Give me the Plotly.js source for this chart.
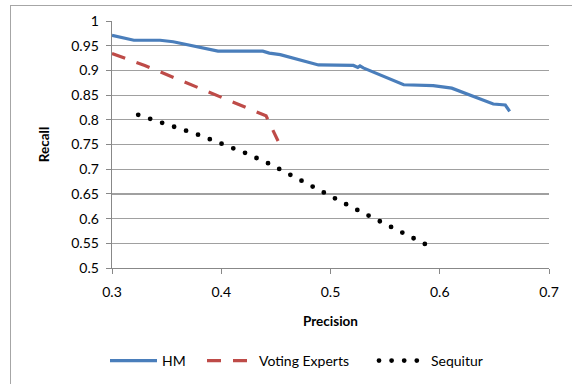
<!DOCTYPE html>
<html>
<head>
<meta charset="utf-8">
<script src="https://cdn.plot.ly/plotly-3.0.1.min.js"></script>
<style>
  html, body { margin: 0; padding: 0; background: #fff; overflow: hidden; }
  #wrap { position: relative; width: 572px; height: 384px; overflow: hidden; }
  #chart { position: absolute; left: 0; top: 0; width: 572px; height: 384px; }
  #frame { position: absolute; left: 10px; top: 5px; width: 700px; height: 500px;
           border: 1.5px solid #a6a6a6; pointer-events: none; box-sizing: border-box; }
  .scatterlayer .trace:nth-child(3) .js-line { stroke-linecap: round; }
  .legend3 .js-line { stroke-linecap: round; }
</style>
</head>
<body>
<div id="wrap">
  <div id="chart"></div>
  <div id="frame"></div>
</div>
<script>
// HM
const hmPrecision = [0.300, 0.320, 0.344, 0.356, 0.397, 0.438, 0.444, 0.454, 0.489, 0.521, 0.525, 0.527, 0.530, 0.567, 0.594, 0.611, 0.649, 0.660, 0.664];
const hmRecall    = [0.971, 0.961, 0.961, 0.958, 0.939, 0.939, 0.935, 0.932, 0.911, 0.910, 0.906, 0.909, 0.905, 0.871, 0.869, 0.864, 0.832, 0.830, 0.817];
// Voting Experts
const vePrecision = [0.300, 0.330, 0.367, 0.400, 0.430, 0.441, 0.452];
const veRecall    = [0.934, 0.910, 0.876, 0.845, 0.818, 0.808, 0.757];
// Sequitur
const sqPrecision = [0.324, 0.358, 0.380, 0.401, 0.423, 0.444, 0.474, 0.505, 0.525, 0.546, 0.566, 0.587];
const sqRecall    = [0.810, 0.786, 0.769, 0.751, 0.732, 0.711, 0.675, 0.640, 0.617, 0.593, 0.571, 0.548];

const seriesNames = ["HM", "Voting Experts", "Sequitur"];
const xTicks = [0.3, 0.4, 0.5, 0.6, 0.7];
const yTicks = [0.5, 0.55, 0.6, 0.65, 0.7, 0.75, 0.8, 0.85, 0.9, 0.95, 1];

const font = "Lato, 'Open Sans', sans-serif";

const traces = [
  { x: hmPrecision, y: hmRecall, name: seriesNames[0], mode: "lines", legend: "legend",
    line: { color: "#4a7ebb", width: 3.2 } },
  { x: vePrecision, y: veRecall, name: seriesNames[1], mode: "lines", legend: "legend2",
    line: { color: "#be4b48", width: 3.2, dash: "14px,12px" } },
  { x: sqPrecision, y: sqRecall, name: seriesNames[2], mode: "lines", legend: "legend3",
    line: { color: "#000000", width: 4.8, dash: "0px,12.6px" } }
];

function legendAt(xpx) {
  return { orientation: "h", xref: "container", yref: "container",
           x: xpx / 572, xanchor: "left", y: 0.060, yanchor: "middle",
           itemwidth: 47, bgcolor: "rgba(0,0,0,0)",
           font: { family: font, size: 14, color: "#000" } };
}

const layout = {
  width: 572, height: 384,
  margin: { l: 112, r: 23, t: 21.4, b: 116.3, autoexpand: false },
  paper_bgcolor: "#ffffff", plot_bgcolor: "#ffffff",
  font: { family: font, size: 14, color: "#000" },
  showlegend: true,
  legend: legendAt(105),
  legend2: legendAt(202),
  legend3: legendAt(374),
  xaxis: {
    range: [0.3, 0.7], tickvals: xTicks, ticktext: xTicks.map(v => v.toString()),
    showgrid: false, zeroline: false, showline: true, linecolor: "#888888", linewidth: 1.3,
    ticks: "outside", ticklen: 5, tickcolor: "#888888", ticklabelstandoff: 6,
    tickfont: { family: font, size: 14 },
    title: { text: "<b>Precision</b>", font: { family: font, size: 13.5 }, standoff: 17 }
  },
  yaxis: {
    range: [0.5, 1], tickvals: yTicks, ticktext: yTicks.map(v => v.toString()),
    showgrid: true, gridcolor: "#a0a0a0", gridwidth: 1.2,
    zeroline: false, showline: true, linecolor: "#888888", linewidth: 1.3,
    ticks: "outside", ticklen: 5, tickcolor: "#888888", ticklabelstandoff: 4,
    tickfont: { family: font, size: 14 },
    title: { text: "<b>Recall</b>", font: { family: font, size: 13.5 }, standoff: 18 }
  }
};

Plotly.newPlot("chart", traces, layout, { displayModeBar: false, staticPlot: true });
</script>
</body>
</html>
